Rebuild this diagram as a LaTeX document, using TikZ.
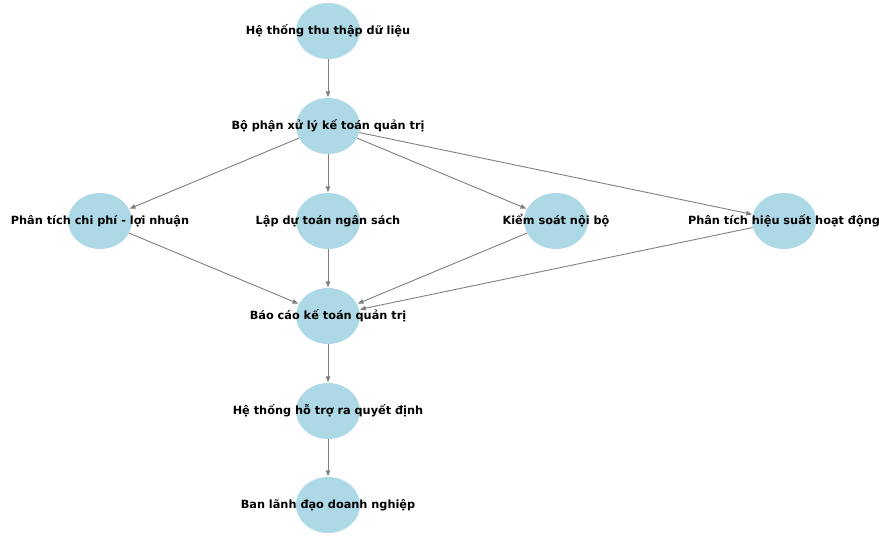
\documentclass[tikz,border=0pt]{standalone}
\usepackage{fontspec}
\setmainfont{DejaVu Sans}
\usetikzlibrary{shapes.geometric,arrows.meta}
\definecolor{nodeblue}{HTML}{ADD8E6}
\definecolor{edgegray}{HTML}{808080}
\tikzset{
  blob/.style={ellipse, fill=nodeblue, draw=none, minimum width=64pt, minimum height=56pt, inner sep=0pt},
  lbl/.style={font=\bfseries\fontsize{11.3}{13}\selectfont, text=black, inner sep=0pt},
  conn/.style={draw=edgegray, line width=0.9pt, -{Triangle[length=6pt,width=4.5pt]}, shorten >=0.5pt}
}
\begin{document}
\begin{tikzpicture}[x=1pt,y=-1pt]
\useasboundingbox (0,0) rectangle (879,538);
\node[blob] (n1) at (328,31) {};
\node[blob] (n2) at (328,126) {};
\node[blob] (n3) at (100,221) {};
\node[blob] (n4) at (328,221) {};
\node[blob] (n5) at (556,221) {};
\node[blob] (n6) at (784,221) {};
\node[blob] (n7) at (328,316) {};
\node[blob] (n8) at (328,411) {};
\node[blob] (n9) at (328,505) {};
\node[lbl] (t1) at (n1) {Hệ thống thu thập dữ liệu};
\node[lbl] (t2) at (n2) {Bộ phận xử lý kế toán quản trị};
\node[lbl] (t3) at (n3) {Phân tích chi phí - lợi nhuận};
\node[lbl] (t4) at (n4) {Lập dự toán ngân sách};
\node[lbl] (t5) at (n5) {Kiểm soát nội bộ};
\node[lbl] (t6) at (n6) {Phân tích hiệu suất hoạt động};
\node[lbl] (t7) at (n7) {Báo cáo kế toán quản trị};
\node[lbl] (t8) at (n8) {Hệ thống hỗ trợ ra quyết định};
\node[lbl] (t9) at (n9) {Ban lãnh đạo doanh nghiệp};
\draw[conn] (n1) -- (n2);
\draw[conn] (n2) -- (n3);
\draw[conn] (n2) -- (n4);
\draw[conn] (n2) -- (n5);
\draw[conn] (n2) -- (n6);
\draw[conn] (n3) -- (n7);
\draw[conn] (n4) -- (n7);
\draw[conn] (n5) -- (n7);
\draw[conn] (n6) -- (n7);
\draw[conn] (n7) -- (n8);
\draw[conn] (n8) -- (n9);
\end{tikzpicture}
\end{document}
